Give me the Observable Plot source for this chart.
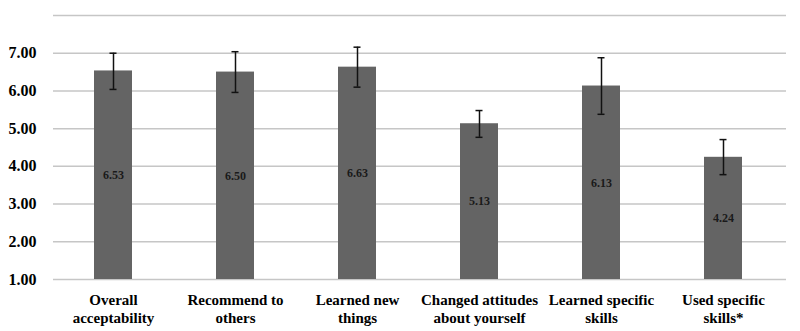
<!DOCTYPE html>
<html>
<head>
<meta charset="utf-8">
<script src="https://cdn.jsdelivr.net/npm/d3@7"></script>
<script src="https://cdn.jsdelivr.net/npm/@observablehq/plot@0.6"></script>
<style>
  html, body { margin: 0; padding: 0; background: #fff; }
  #chart svg, #chart svg text { font-family: "Liberation Serif", "Times New Roman", Times, serif !important; }
</style>
</head>
<body>
<div id="chart"></div>
<script>
// Mean ratings per item with error bar bounds
const categories = [
  "Overall\nacceptability",
  "Recommend to\nothers",
  "Learned new\nthings",
  "Changed attitudes\nabout yourself",
  "Learned specific\nskills",
  "Used specific\nskills*"
];
const means = [6.53, 6.50, 6.63, 5.13, 6.13, 4.24];
const lower = [6.04, 5.96, 6.10, 4.77, 5.38, 3.78];
const upper = [7.00, 7.04, 7.16, 5.48, 6.88, 4.71];
const yTicks = [1, 2, 3, 4, 5, 6, 7];
const gridLines = [1, 2, 3, 4, 5, 6, 7, 8];

const data = categories.map((c, i) => ({cat: c, mean: means[i], lo: lower[i], hi: upper[i]}));

const serif = "Liberation Serif, Times New Roman, Times, serif";

const chart = Plot.plot({
  width: 800,
  height: 331,
  marginLeft: 50,
  marginRight: 14,
  marginTop: 15,
  marginBottom: 52,
  style: {fontWeight: "bold", color: "#000", background: "#fff"},
  x: {domain: categories, paddingInner: 0.69, paddingOuter: 0.345, label: null},
  y: {domain: [1, 8], label: null},
  marks: [
    Plot.ruleY(gridLines, {y: d => d, stroke: "#c6c6c6", strokeWidth: 1.5, insetLeft: 3}),
    Plot.barY(data, {x: "cat", y1: 1, y2: "mean", fill: "#646464"}),
    Plot.ruleX(data, {x: "cat", y1: "lo", y2: "hi", stroke: "#111", strokeWidth: 1.5}),
    Plot.tickY(data, {x: "cat", y: "hi", stroke: "#111", strokeWidth: 1.5, insetLeft: 15.5, insetRight: 15.5}),
    Plot.tickY(data, {x: "cat", y: "lo", stroke: "#111", strokeWidth: 1.5, insetLeft: 15.5, insetRight: 15.5}),
    Plot.text(data, {
      x: "cat",
      y: d => (1 + d.mean) / 2,
      text: d => d.mean.toFixed(2),
      fill: "#1a1a1a",
      fontFamily: serif,
      fontSize: 12,
      fontWeight: "bold"
    }),
    Plot.axisY({
      ticks: yTicks,
      tickFormat: d => d.toFixed(2),
      tickSize: 0,
      tickPadding: 14,
      fontFamily: serif,
      fontSize: 16,
      fontWeight: "bold",
      fill: "#000",
      label: null
    }),
    Plot.axisX({
      tickSize: 0,
      tickPadding: 12,
      fontFamily: serif,
      fontSize: 15,
      fontWeight: "bold",
      fill: "#000",
      lineHeight: 1.22,
      label: null
    })
  ]
});

document.getElementById("chart").appendChild(chart);
</script>
</body>
</html>
